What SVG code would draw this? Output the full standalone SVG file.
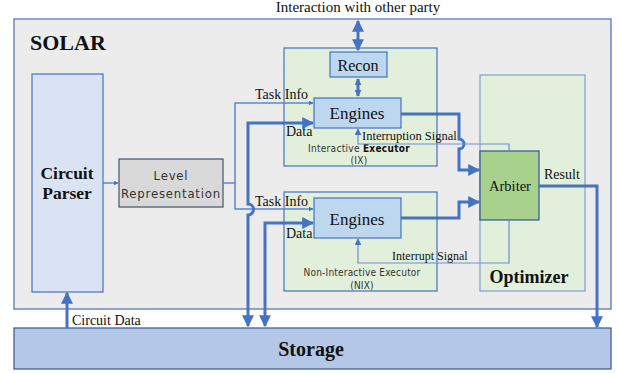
<svg xmlns="http://www.w3.org/2000/svg" width="618" height="373" viewBox="0 0 618 373">
<defs>
<marker id="ah" viewBox="0 0 10 10" refX="9" refY="5" markerWidth="5" markerHeight="5" orient="auto-start-reverse" markerUnits="userSpaceOnUse"><path d="M0,0 L10,5 L0,10 z" fill="#4472c4"/></marker>
<marker id="ahb" viewBox="0 0 10 10" refX="9" refY="5" markerWidth="12" markerHeight="12" orient="auto-start-reverse" markerUnits="userSpaceOnUse"><path d="M0,0 L10,5 L0,10 z" fill="#4472c4"/></marker>
<marker id="ahs" viewBox="0 0 10 10" refX="9" refY="5" markerWidth="7" markerHeight="7" orient="auto-start-reverse" markerUnits="userSpaceOnUse"><path d="M0,0 L10,5 L0,10 z" fill="#4472c4"/></marker>
</defs>
<style>
.serif{font-family:"Liberation Serif","DejaVu Serif",serif;fill:#111}
.cond{font-family:"DejaVu Sans Condensed","DejaVu Sans",sans-serif;font-stretch:condensed;fill:#333}
.thick{fill:none;stroke:#4472c4;stroke-width:3}
.thin{fill:none;stroke:#5b87d6;stroke-width:1.5}
.sig{fill:none;stroke:#6a90cf;stroke-width:1.2}
</style>
<rect width="618" height="373" fill="#ffffff"/>
<g id="solar">
<rect x="14" y="19" width="597" height="290" fill="#ececec" stroke="#4a6fb0" stroke-width="1.2"/>
<text x="30" y="50" class="serif" font-size="22" font-weight="bold">SOLAR</text>
</g>
<g id="storage">
<rect x="14" y="328" width="597" height="41" fill="#b4c7e7" stroke="#2f5597" stroke-width="1.2"/>
<text x="311" y="356" class="serif" font-size="20" font-weight="bold" text-anchor="middle">Storage</text>
</g>
<g id="parser">
<rect x="32" y="74" width="71" height="218" fill="#dae3f3" stroke="#4472c4" stroke-width="1.2"/>
<text x="67" y="179" class="serif" font-size="17.5" font-weight="bold" text-anchor="middle">Circuit</text>
<text x="67" y="199" class="serif" font-size="17.5" font-weight="bold" text-anchor="middle">Parser</text>
</g>
<g id="level">
<rect x="119" y="159" width="104" height="48" fill="#d9d9d9" stroke="#44546a" stroke-width="1.2"/>
<text x="171" y="180" class="cond" font-size="13" letter-spacing="0.8" text-anchor="middle">Level</text>
<text x="171" y="198" class="cond" font-size="13" letter-spacing="0.8" text-anchor="middle">Representation</text>
</g>
<g id="ix">
<rect x="284" y="48" width="153" height="118" fill="#e2efda" stroke="#4472c4" stroke-width="1.2"/>
<text x="359" y="152" class="cond" font-size="10" text-anchor="middle" letter-spacing="0.3">Interactive <tspan font-weight="bold" fill="#111">Executor</tspan></text>
<text x="359" y="164" class="cond" font-size="10" text-anchor="middle" letter-spacing="0.3">(IX)</text>
</g>
<g id="nix">
<rect x="284" y="192" width="153" height="99" fill="#e2efda" stroke="#4472c4" stroke-width="1.2"/>
<text x="362" y="276" class="cond" font-size="10" text-anchor="middle" letter-spacing="0.2">Non-Interactive Executor</text>
<text x="362" y="289" class="cond" font-size="10" text-anchor="middle" letter-spacing="0.2">(NIX)</text>
</g>
<g id="optimizer">
<rect x="480" y="75" width="105" height="216" fill="#e2efda" stroke="#7f9fcf" stroke-width="1.2"/>
<text x="529" y="283" class="serif" font-size="18" font-weight="bold" text-anchor="middle">Optimizer</text>
</g>
<g id="recon">
<rect x="330" y="52" width="57" height="25" fill="#bdd7ee" stroke="#4472c4" stroke-width="1.2"/>
<text x="358" y="71" class="serif" font-size="16" text-anchor="middle">Recon</text>
</g>
<g id="engines-ix">
<rect x="314" y="98" width="87" height="30" fill="#bdd7ee" stroke="#4472c4" stroke-width="1.2"/>
<text x="357" y="119" class="serif" font-size="17" text-anchor="middle">Engines</text>
</g>
<g id="engines-nix">
<rect x="314" y="198" width="87" height="40" fill="#bdd7ee" stroke="#4472c4" stroke-width="1.2"/>
<text x="357" y="225" class="serif" font-size="17" text-anchor="middle">Engines</text>
</g>
<g id="arbiter">
<rect x="480" y="151" width="59" height="69" fill="#a9d18e" stroke="#2f5597" stroke-width="1.2"/>
<text x="510" y="191" class="serif" font-size="14.5" text-anchor="middle">Arbiter</text>
</g>
<g id="connectors">
<path class="thin" d="M103,183 H118" marker-end="url(#ah)"/>
<path class="thin" d="M223,183 H235 V103 H313" marker-end="url(#ah)"/>
<path class="thin" d="M235,183 V209 H313" marker-end="url(#ah)"/>
<path class="thick" d="M248,326 V215 A5,5 0 0 0 248,204 V123 H313" marker-start="url(#ahb)" marker-end="url(#ahb)"/>
<path class="thick" d="M265,326 V223 H313" marker-start="url(#ahb)" marker-end="url(#ahb)"/>
<path class="thick" d="M358,21 V50" marker-start="url(#ahb)" marker-end="url(#ahb)"/>
<path class="thick" d="M358,79 V96" marker-start="url(#ahs)" marker-end="url(#ahs)"/>
<path class="thick" d="M401,114 H459 V139 A5,5 0 0 1 459,149 V170 H479" marker-end="url(#ahb)"/>
<path class="thick" d="M401,218 H459 V202 H479" marker-end="url(#ahb)"/>
<path class="sig" d="M509,151 V144 H358 V129" marker-end="url(#ahs)"/>
<path class="sig" d="M509,220 V263 H358 V239" marker-end="url(#ahs)"/>
<path class="thick" d="M539,186 H597 V327" marker-end="url(#ahb)"/>
<path class="thick" d="M67,328 V293" marker-end="url(#ahb)"/>
</g>
<g id="labels">
<text x="358" y="12" class="serif" font-size="15" text-anchor="middle">Interaction with other party</text>
<text x="255" y="99" class="serif" font-size="14">Task Info</text>
<text x="286" y="136" class="serif" font-size="14">Data</text>
<text x="255" y="206" class="serif" font-size="14">Task Info</text>
<text x="286" y="238" class="serif" font-size="14">Data</text>
<text x="362" y="140" class="serif" font-size="12.5">Interruption Signal</text>
<text x="392" y="260" class="serif" font-size="12">Interrupt Signal</text>
<text x="544" y="179" class="serif" font-size="14">Result</text>
<text x="72" y="325" class="serif" font-size="14">Circuit Data</text>
</g>
</svg>
